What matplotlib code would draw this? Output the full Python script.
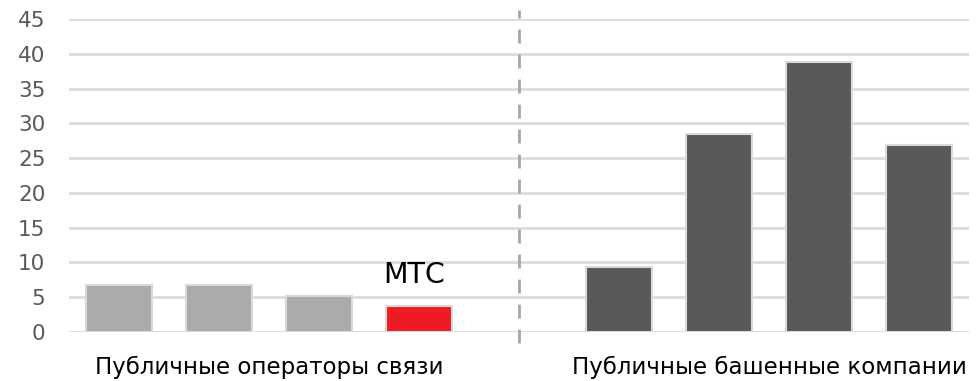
import matplotlib.pyplot as plt

# значения по группам
operators = [6.8, 6.7, 5.2, 3.8]
towers = [9.4, 28.5, 38.8, 26.9]
group_labels = ["Публичные операторы связи", "Публичные башенные компании"]
highlight_label = "МТС"
yticks = [0, 5, 10, 15, 20, 25, 30, 35, 40, 45]

plt.rcParams['font.family'] = ['DejaVu Sans']

fig = plt.figure(figsize=(9.77, 3.81), dpi=100)
ax = fig.add_axes([69 / 977, 49 / 381, 900 / 977, 313 / 381])

x_ops = list(range(len(operators)))
x_tow = [i + len(operators) + 1 for i in range(len(towers))]

col_ops = ['#ababab'] * (len(operators) - 1) + ['#ed1c24']
ax.bar(x_ops, operators, width=0.66, color=col_ops, edgecolor='#d9d9d9',
       linewidth=1.5, zorder=3)
ax.bar(x_tow, towers, width=0.66, color='#58595b', edgecolor='#d9d9d9',
       linewidth=1.5, zorder=3)

ax.set_xlim(-0.5, 8.5)
ax.set_ylim(0, 45)
ax.set_yticks(yticks)
ax.yaxis.grid(True, color='#dcdcdc', linewidth=2)
ax.set_axisbelow(True)
ax.set_xticks([])
for s in ax.spines.values():
    s.set_visible(False)
ax.tick_params(axis='y', length=0, pad=17, labelsize=15.5, labelcolor='#595959')

# разделитель групп
ax.plot([len(operators), len(operators)], [-1.6, 46.3], color='#a6a6a6',
        linewidth=2, linestyle=(0, (5, 4)), clip_on=False, zorder=1)

ax.text(x_ops[-1] - 0.05, operators[-1] + 3.3, highlight_label, ha='center',
        va='baseline', fontsize=20.5, color='black')

ax.text((x_ops[0] + x_ops[-1]) / 2, -6.0, group_labels[0], ha='center',
        va='baseline', fontsize=16.5, color='black')
ax.text((x_tow[0] + x_tow[-1]) / 2, -6.0, group_labels[1], ha='center',
        va='baseline', fontsize=16.5, color='black')

fig.savefig('out.png', dpi=100)
